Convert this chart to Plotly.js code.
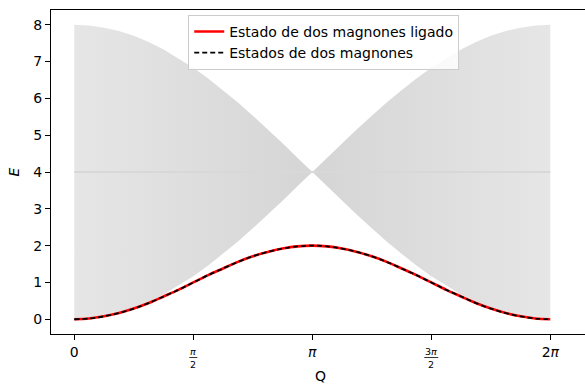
<!DOCTYPE html>
<html>
<head>
<meta charset="utf-8">
<script src="https://cdn.plot.ly/plotly-3.0.1.min.js"></script>
<style>
html,body{margin:0;padding:0;overflow:hidden;background:#fff;}
#chart{width:600px;height:385px;}
</style>
</head>
<body>
<div id="chart"></div>
<script>
// Q values (rad), 0 .. 2π
const Q = [0, 0.196, 0.393, 0.589, 0.785, 0.982, 1.178, 1.374, 1.571, 1.767, 1.963, 2.160, 2.356, 2.553, 2.749, 2.945, 3.142,
           3.338, 3.534, 3.731, 3.927, 4.123, 4.320, 4.516, 4.712, 4.909, 5.105, 5.301, 5.498, 5.694, 5.890, 6.087, 6.283];
// upper edge of two-magnon continuum
const E_upper = [8.00, 7.98, 7.92, 7.83, 7.70, 7.53, 7.33, 7.09, 6.83, 6.54, 6.22, 5.89, 5.53, 5.16, 4.78, 4.39, 4.00,
                 4.39, 4.78, 5.16, 5.53, 5.89, 6.22, 6.54, 6.83, 7.09, 7.33, 7.53, 7.70, 7.83, 7.92, 7.98, 8.00];
// lower edge of two-magnon continuum
const E_lower = [0.00, 0.02, 0.08, 0.17, 0.30, 0.47, 0.67, 0.91, 1.17, 1.46, 1.78, 2.11, 2.47, 2.84, 3.22, 3.61, 4.00,
                 3.61, 3.22, 2.84, 2.47, 2.11, 1.78, 1.46, 1.17, 0.91, 0.67, 0.47, 0.30, 0.17, 0.08, 0.02, 0.00];
// bound state
const E_bound = [0.00, 0.02, 0.08, 0.17, 0.29, 0.44, 0.62, 0.80, 1.00, 1.20, 1.38, 1.56, 1.71, 1.83, 1.92, 1.98, 2.00,
                 1.98, 1.92, 1.83, 1.71, 1.56, 1.38, 1.20, 1.00, 0.80, 0.62, 0.44, 0.29, 0.17, 0.08, 0.02, 0.00];
// middle line of continuum
const Q_mid = [0, 6.283];
const E_mid = [4, 4];

const tickVals = [0, 1.5708, 3.1416, 4.7124, 6.2832];
const tickText = ['0', '', '<i>π</i>', '', '2<i>π</i>'];
const yTicks = [0, 1, 2, 3, 4, 5, 6, 7, 8];

const FONT = 'DejaVu Sans, sans-serif';

const traces = [
  {x: Q, y: E_lower, mode: 'lines', line: {width: 0, color: 'rgba(0,0,0,0)'}, showlegend: false, hoverinfo: 'skip'},
  {x: Q, y: E_upper, mode: 'lines', fill: 'tonexty', line: {width: 0, color: 'rgba(0,0,0,0)'},
   fillcolor: '#dedede',
   fillgradient: {type: 'horizontal', colorscale: [[0, '#e6e6e6'], [0.5, '#d5d5d5'], [1, '#e6e6e6']]},
   showlegend: false, hoverinfo: 'skip'},
  {x: Q_mid, y: E_mid, mode: 'lines', line: {width: 2, color: '#d8d8d8'}, showlegend: false, hoverinfo: 'skip'},
  {x: Q, y: E_bound, mode: 'lines', line: {color: '#ff0000', width: 2.6, shape: 'spline'}, name: 'Estado de dos magnones ligado'},
  {x: Q, y: E_bound, mode: 'lines', line: {color: '#000000', width: 1.8, dash: '5px,3px', shape: 'spline'}, name: 'Estados de dos magnones'}
];

const fracAnn = [];
[[1.5708, '<i>π</i>'], [4.7124, '3<i>π</i>']].forEach(([v, t]) => {
  fracAnn.push({x: v, y: 0, xref: 'x', yref: 'paper', yshift: -17, text: t, showarrow: false,
    font: {family: FONT, size: 9.5, color: '#000'}, xanchor: 'center', yanchor: 'middle'});
  fracAnn.push({x: v, y: 0, xref: 'x', yref: 'paper', yshift: -30, text: '2', showarrow: false,
    font: {family: FONT, size: 9.5, color: '#000'}, xanchor: 'center', yanchor: 'middle'});
});

const shapes = [[1.5708, 4], [4.7124, 7]].map(([v, hw]) => ({
  type: 'line', xref: 'x', yref: 'paper',
  xsizemode: 'pixel', xanchor: v, ysizemode: 'pixel', yanchor: 0,
  x0: -hw, x1: hw, y0: -23.5, y1: -23.5, line: {color: '#000', width: 0.8}
}));

const layout = {
  width: 600, height: 385,
  margin: {l: 51, r: 10, t: 10, b: 51},
  paper_bgcolor: '#fff', plot_bgcolor: '#fff',
  font: {family: FONT, size: 14, color: '#000'},
  xaxis: {
    range: [-0.3076, 6.807],
    tickmode: 'array', tickvals: tickVals, ticktext: tickText,
    ticks: 'outside', ticklen: 5, tickwidth: 1, tickcolor: '#000',
    showline: true, linecolor: '#000', linewidth: 1, mirror: true,
    showgrid: false, zeroline: false,
    tickfont: {family: FONT, size: 14},
    title: {text: 'Q', font: {family: FONT, size: 14}, standoff: 12}
  },
  yaxis: {
    range: [-0.4, 8.4],
    tickmode: 'array', tickvals: yTicks,
    ticks: 'outside', ticklen: 5, tickwidth: 1, tickcolor: '#000',
    showline: true, linecolor: '#000', linewidth: 1, mirror: true,
    showgrid: false, zeroline: false,
    tickfont: {family: FONT, size: 14},
    title: {text: '<i>E</i>', font: {family: FONT, size: 14}, standoff: 10}
  },
  legend: {
    x: 0.506, y: 0.985, xanchor: 'center', yanchor: 'top', traceorder: 'normal',
    bgcolor: 'rgba(255,255,255,0.85)', bordercolor: '#cccccc', borderwidth: 1,
    font: {family: FONT, size: 14}, tracegroupgap: 0
  },
  annotations: fracAnn,
  shapes: shapes,
  showlegend: true
};

Plotly.newPlot('chart', traces, layout, {displayModeBar: false, staticPlot: true});
</script>
</body>
</html>
